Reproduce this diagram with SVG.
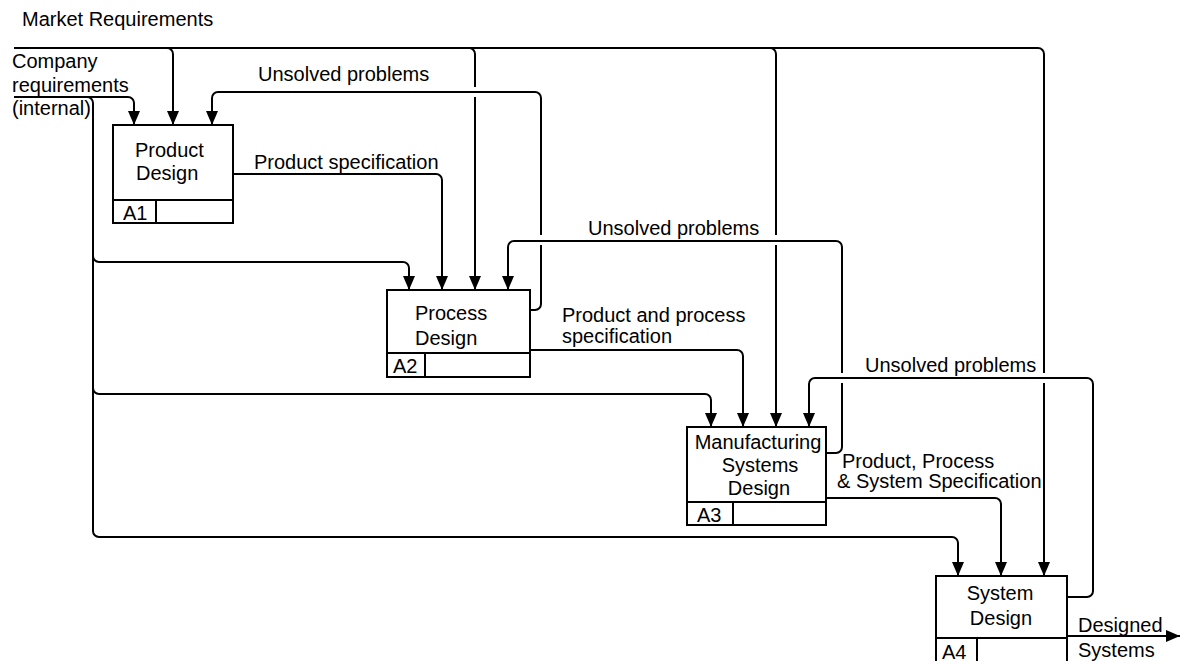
<svg xmlns="http://www.w3.org/2000/svg" width="1181" height="661" viewBox="0 0 1181 661">
  <style>
    text { font-family: "Liberation Sans", Arial, sans-serif; font-size: 20px; fill: #000; }
    .mid { text-anchor: middle; }
    .box { fill: #fff; stroke: #000; stroke-width: 2; }
    .div { fill: none; stroke: #000; stroke-width: 2; }
    .wire { fill: none; stroke: #000; stroke-width: 2; }
    .arr { marker-end: url(#ah); }
  </style>
  <defs>
    <marker id="ah" markerUnits="userSpaceOnUse" viewBox="0 0 14 12" markerWidth="14" markerHeight="12" refX="14" refY="6" orient="auto">
      <path d="M0 0L14 6L0 12z" fill="#000"/>
    </marker>
  </defs>
  <rect width="1181" height="661" fill="#fff"/>

  <!-- connectors -->
  <g id="connectors">
    <!-- market requirements: main bus and drops -->
    <path class="wire arr" d="M14 48H1038A6 6 0 0 1 1044 54V373M1044 383V576"/>
    <path class="wire arr" d="M14 48H167A6 6 0 0 1 173 54V125"/>
    <path class="wire arr" d="M469 48A6 6 0 0 1 475 54V87M475 97V290"/>
    <path class="wire arr" d="M770 48A6 6 0 0 1 776 54V235M776 245V427"/>

    <!-- company requirements: trunk and branches -->
    <path class="wire arr" d="M14 97H128A6 6 0 0 1 134 103V125"/>
    <path class="wire arr" d="M87 97A6 6 0 0 1 93 103V531A6 6 0 0 0 99 537H952A6 6 0 0 1 958 543V576"/>
    <path class="wire arr" d="M93 256A6 6 0 0 0 99 262H403A6 6 0 0 1 409 268V290"/>
    <path class="wire arr" d="M93 388A6 6 0 0 0 99 394H705A6 6 0 0 1 711 400V427"/>

    <!-- feedback loops -->
    <path class="wire arr" d="M530 310H535A6 6 0 0 0 541 304V245M541 235V98A6 6 0 0 0 535 92H218A6 6 0 0 0 212 98V125"/>
    <path class="wire arr" d="M826 453H836A6 6 0 0 0 842 447V383M842 373V247A6 6 0 0 0 836 241H514A6 6 0 0 0 508 247V290"/>
    <path class="wire arr" d="M1067 597H1087A6 6 0 0 0 1093 591V384A6 6 0 0 0 1087 378H815A6 6 0 0 0 809 384V427"/>

    <!-- specifications passed downstream -->
    <path class="wire arr" d="M233 174H436A6 6 0 0 1 442 180V290"/>
    <path class="wire arr" d="M530 350H737A6 6 0 0 1 743 356V427"/>
    <path class="wire arr" d="M826 498H995A6 6 0 0 1 1001 504V576"/>
    <path class="wire arr" d="M1067 636H1180"/>

    <!-- connector labels -->
    <text x="22" y="26">Market Requirements</text>
    <text x="12" y="68">Company</text>
    <text x="12" y="92">requirements</text>
    <text x="12" y="115">(internal)</text>
    <text x="258" y="81">Unsolved problems</text>
    <text x="254" y="169">Product specification</text>
    <text x="588" y="235">Unsolved problems</text>
    <text x="562" y="322">Product and process</text>
    <text x="562" y="343">specification</text>
    <text x="865" y="372">Unsolved problems</text>
    <text x="842" y="468">Product, Process</text>
    <text x="837" y="488">&amp; System Specification</text>
    <text x="1078" y="632">Designed</text>
    <text x="1078" y="657">Systems</text>
  </g>

  <!-- activity boxes -->
  <g id="A1">
    <rect class="box" x="113" y="125" width="120" height="98"/>
    <path class="div" d="M113 200H233M156 200V223"/>
    <text x="135" y="157">Product</text>
    <text x="136" y="180">Design</text>
    <text x="123" y="220">A1</text>
  </g>
  <g id="A2">
    <rect class="box" x="387" y="290" width="143" height="87"/>
    <path class="div" d="M387 353H530M425 353V377"/>
    <text x="415" y="320">Process</text>
    <text x="415" y="345">Design</text>
    <text x="393" y="373">A2</text>
  </g>
  <g id="A3">
    <rect class="box" x="687" y="427" width="139" height="98"/>
    <path class="div" d="M687 502H826M733 502V525"/>
    <text class="mid" x="758" y="449">Manufacturing</text>
    <text class="mid" x="760" y="472">Systems</text>
    <text class="mid" x="759" y="495">Design</text>
    <text x="697" y="522">A3</text>
  </g>
  <g id="A4">
    <rect class="box" x="936" y="576" width="131" height="100"/>
    <path class="div" d="M936 638H1067M977 638V661"/>
    <text class="mid" x="1000" y="600">System</text>
    <text class="mid" x="1001" y="625">Design</text>
    <text x="942" y="659">A4</text>
  </g>
</svg>
